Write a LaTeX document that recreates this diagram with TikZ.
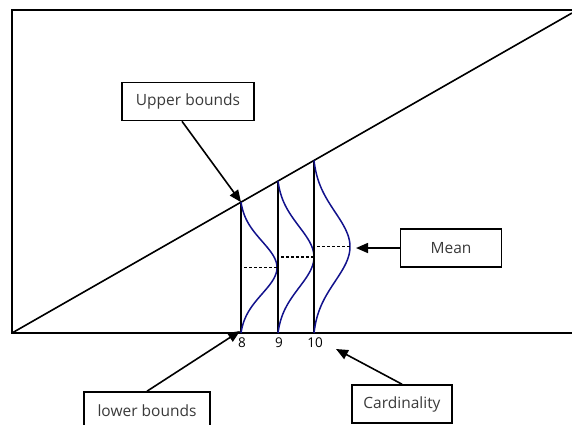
\documentclass[tikz,border=0pt]{standalone}
\usepackage{fontspec}
\setmainfont{Open Sans}
\usepackage{tikz}
\usetikzlibrary{arrows.meta}
\definecolor{curveBlue}{HTML}{12128C}
\definecolor{labelGray}{HTML}{3A3A3A}
\tikzset{
  frame line/.style={line width=2pt, draw=black},
  bound line/.style={line width=1.6pt, draw=black},
  gauss curve/.style={line width=1.5pt, draw=curveBlue},
  mean line/.style={line width=1.2pt, dash pattern=on 3pt off 2pt},
  pointer/.style={-{Triangle[length=12pt,width=10pt]}, line width=1.6pt},
  label box/.style={draw=black, line width=1.6pt, fill=white,
    text=labelGray, font=\fontsize{15.5}{17}\selectfont,
    inner sep=0pt, minimum height=38pt},
  tick label/.style={font=\fontsize{13.5}{15}\selectfont, anchor=north}
}

\begin{document}
\begin{tikzpicture}[x=1pt,y=-1pt]
  \useasboundingbox (0,0) rectangle (572,424);
  % frame and diagonal
  \coordinate (origin) at (12,333);
  \draw[frame line] (572,10) -- (12,10) -- (origin) -- (572,333);
  \draw[bound line] (origin) -- (572,13);
  % one distribution per cardinality
  \foreach \xc/\lbl in {241/8, 278/9, 314/10}{
    \pgfmathsetmacro{\ytop}{333-(\xc-12)*0.5714}
    \pgfmathsetmacro{\ymid}{(\ytop+333)/2}
    \pgfmathsetmacro{\sig}{(333-\ytop)/5}
    \coordinate (top\lbl) at (\xc,\ytop);
    \coordinate (bot\lbl) at (\xc,333);
    \draw[bound line] (top\lbl) -- (bot\lbl);
    \draw[gauss curve] plot[domain=\ytop:333, samples=80, smooth]
      ({\xc+36*(exp(-((\x-\ymid)/\sig)^2/2)-0.044)/0.956}, \x);
    \draw[mean line] (\xc+3,\ymid) -- (\xc+36,\ymid);
    \node[tick label] (n\lbl) at (\xc+1,334) {\lbl};
  }
  % labels
  \node[label box, minimum width=132pt] (upper) at (188,101.5) {Upper bounds};
  \node[label box, minimum width=101pt] (mean) at (451,248) {Mean};
  \node[label box, minimum width=126pt] (lower) at (147,411) {lower bounds};
  \node[label box, minimum width=100pt] (card) at (402,404) {Cardinality};
  \coordinate (meanpt) at (356,248);
  \coordinate (cardpt) at (336,349);
  \draw[pointer] ([xshift=-6pt]upper.south) -- (top8);
  \draw[pointer] (mean.west) -- (meanpt);
  \draw[pointer] (lower.north) -- ([xshift=-1pt,yshift=2pt]bot8);
  \draw[pointer] (card.north) -- (cardpt);
\end{tikzpicture}
\end{document}
